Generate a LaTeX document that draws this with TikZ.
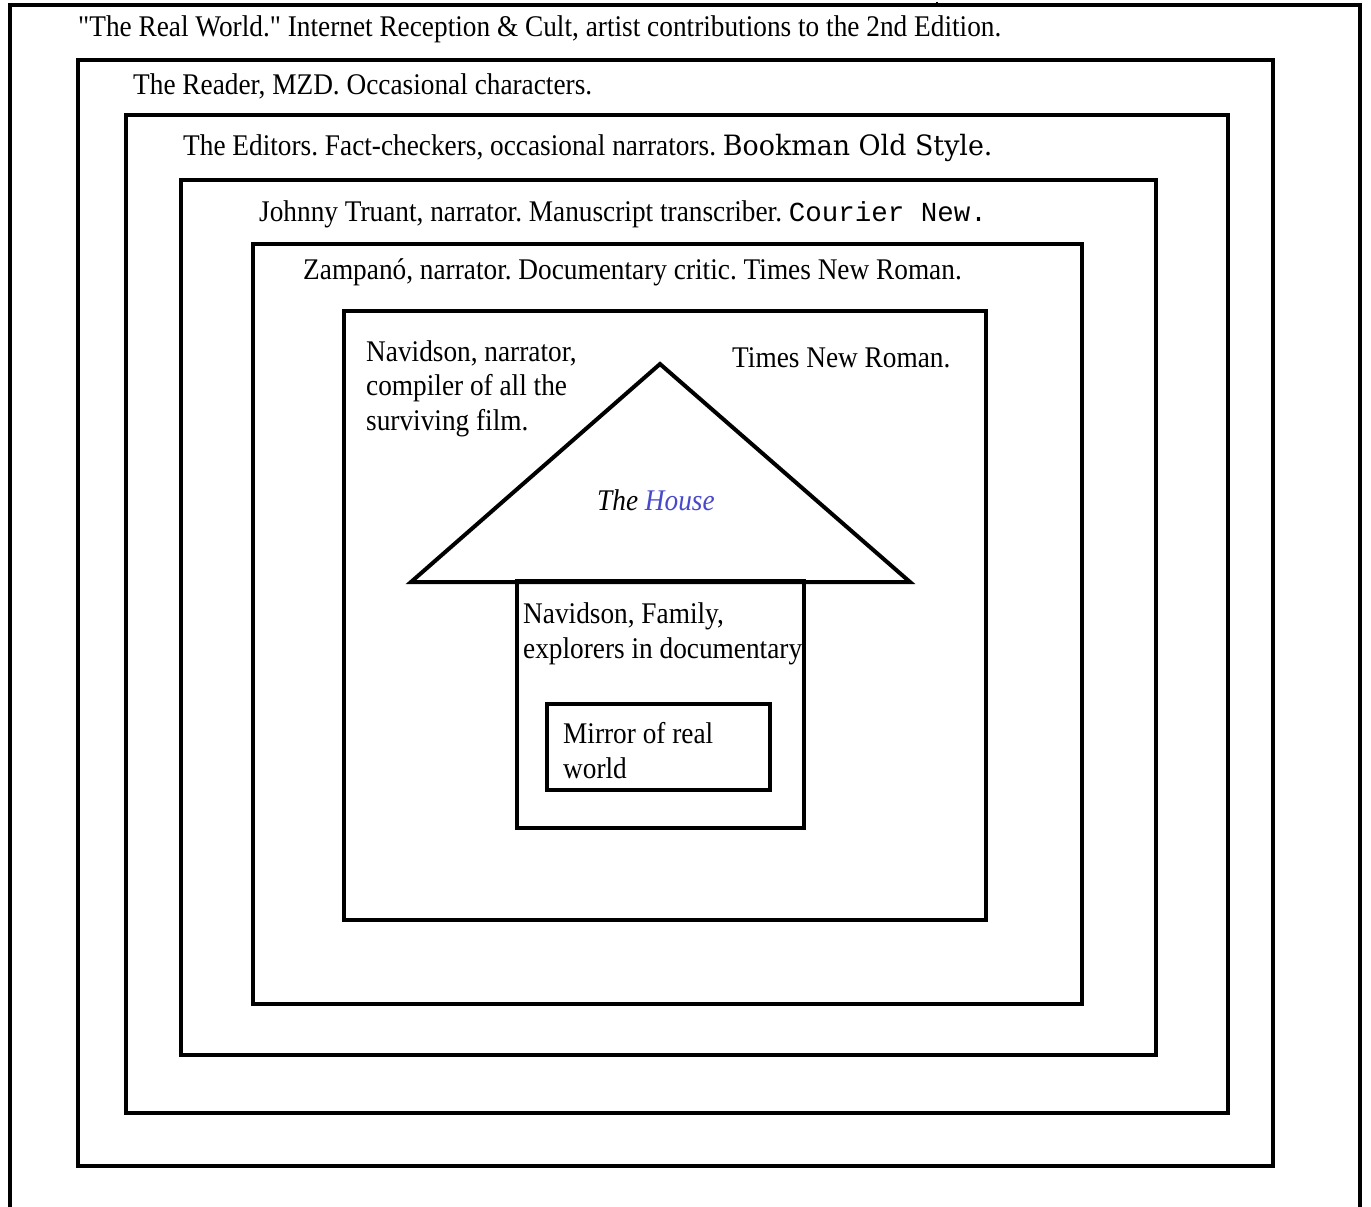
\documentclass[tikz,border=0pt]{standalone}
\usepackage{fontspec}
\setmainfont{Liberation Serif}[FakeStretch=0.91,Ligatures=TeXOff]
\newfontfamily\courfont{Liberation Mono}
\newfontfamily\bookfont{DejaVu Serif}[FakeStretch=0.96]
\definecolor{houseblue}{RGB}{72,72,205}
\frenchspacing
\begin{document}
\begin{tikzpicture}[x=1pt,y=-1pt,
  frame/.style={draw=black,line width=4pt},
  lbl/.style={anchor=base west,inner sep=0pt,font=\fontsize{30}{34.5}\selectfont,align=left}]
\useasboundingbox (0,0) rectangle (1371,1207);
\fill[white] (0,0) rectangle (1371,1207);
% outer open frame
\draw[line width=3.5pt] (10,1207) -- (10,5) -- (1360,5) -- (1360,1207);
\draw[line width=2pt] (937,2) -- (937,6);
% nested boxes
\draw[frame] (78,60) rectangle (1273,1166);
\draw[frame] (126,115) rectangle (1228,1113);
\draw[frame] (181,180) rectangle (1156,1055);
\draw[frame] (253,244) rectangle (1082,1004);
\draw[frame] (344,311) rectangle (986,920);
% house
\draw[frame,line join=miter] (411,582) -- (660,364) -- (910,582) -- cycle;
\draw[frame] (517,581) rectangle (804,828);
\draw[frame] (547,704) rectangle (770,790);
% labels
\node[lbl] (t1) at (78,37) {"The Real World." Internet Reception \& Cult, artist contributions to the 2nd Edition.};
\node[lbl] (t2) at (133,94) {The Reader, MZD. Occasional characters.};
\node[lbl] (t3) at (183,155) {The Editors. Fact-checkers, occasional narrators. {\bookfont\fontsize{28}{30}\selectfont Bookman Old Style.}};
\node[lbl] (t4) at (259,221) {Johnny Truant, narrator. Manuscript transcriber. {\courfont\fontsize{27.5}{30}\selectfont Courier New.}};
\node[lbl] (t5) at (303,279) {Zampanó, narrator. Documentary critic. Times New Roman.};
\node[lbl] (t6) at (366,430) {Navidson, narrator,\\compiler of all the\\surviving film.};
\node[lbl] (t7) at (732,367) {Times New Roman.};
\node[lbl] (house) at (597,510) {\itshape The \textcolor{houseblue}{House}};
\node[lbl] (fam) at (523,658) {Navidson, Family,\\explorers in documentary};
\node[lbl] (mirror) at (563,778) {Mirror of real\\world};
\end{tikzpicture}
\end{document}
